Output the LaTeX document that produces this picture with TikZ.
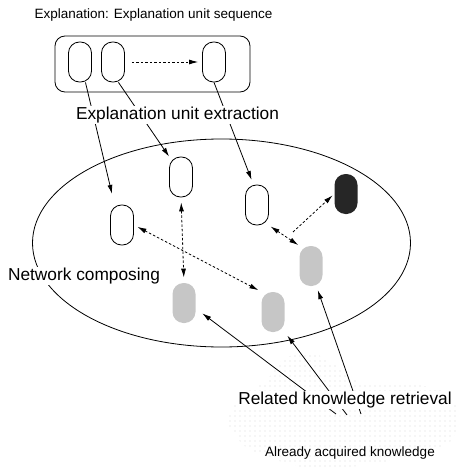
\documentclass[tikz,border=0pt]{standalone}
\usepackage{fontspec}
\setmainfont{Liberation Sans}
\usetikzlibrary{arrows.meta,patterns.meta}

\tikzset{
  expunit/.style={draw, line width=0.8pt, rounded corners=11pt,
    minimum width=23pt, minimum height=40pt, inner sep=0pt},
  knowunit/.style={expunit, draw=none, fill=gray!45},
  newunit/.style={expunit, draw=none, fill=black!85},
  link/.style={line width=0.8pt, -{Latex[length=9pt,width=5pt]}},
  relation/.style={line width=0.8pt, dash pattern=on 2.5pt off 2pt,
    {Latex[length=9pt,width=5pt]}-{Latex[length=9pt,width=5pt]}},
  bigtext/.style={font=\fontsize{17.3}{19}\selectfont, fill=white, inner sep=1pt},
  smalltext/.style={font=\fontsize{13.5}{15}\selectfont, inner sep=1pt},
}

\begin{document}
\begin{tikzpicture}[x=1pt, y=-1pt]
      \useasboundingbox (0,0) rectangle (455,476);
      %
      % already acquired knowledge (cloud)
      \fill[pattern={Dots[distance=5pt, radius=0.45pt]}, pattern color=gray!85]
        plot[smooth cycle] coordinates {(228,420) (242,396) (266,381) (282,360)
          (310,352) (336,366) (362,384) (402,384) (442,390) (458,412) (452,440)
          (420,455) (380,462) (322,470) (280,461) (245,446)};
      %
      % explanation unit sequence
      \node[draw, line width=0.8pt, rounded corners=10pt, minimum width=195pt,
        minimum height=56pt] (seq) at (152.5,64) {};
      \node[expunit] (u1) at (80,62) {};
      \node[expunit] (u2) at (113,62) {};
      \node[expunit] (u3) at (214,62) {};
      \draw[link, dash pattern=on 2.5pt off 2pt] (u2.east) ++(7,0) coordinate (s0)
        -- ([xshift=-4pt]u3.west);
      %
      % network
      \draw[line width=0.8pt] (221.5,243) ellipse (189 and 104);
      \node[expunit] (a) at (122,225) {};               % left
      \node[expunit] (b) at (181,177) {};               % middle top
      \node[expunit] (c) at (257,205) {};               % right
      \node[newunit] (d) at (346,194) {};               % new unit
      \node[knowunit] (e) at (311,266) {};
      \node[knowunit] (f) at (273,312) {};
      \node[knowunit] (g) at (184,303) {};
      %
      % extraction
      \draw[link, shorten >=11pt] (u1.-75) -- (a.110);
      \draw[link] (u2.-75) -- (b.north west);
      \draw[link, shorten >=5pt] (u3.south) -- (c.100);
      %
      % composing
      \draw[relation, shorten <=5pt, shorten >=5pt] (b.south) -- (g.north);
      \draw[relation, shorten <=4pt, shorten >=3pt] (a.east) -- (f.north west);
      \draw[relation, shorten <=2pt, shorten >=1pt] (c.south east) -- (e.north west);
      \coordinate (split) at (293,232);
      \draw[link, dash pattern=on 2.5pt off 2pt, shorten >=2pt] (split) -- (d.west);
      %
      % retrieval
      \coordinate (k1) at (336,414);
      \coordinate (k2) at (347,415);
      \coordinate (k3) at (361,414);
      \draw[link, shorten >=8pt] (k1) -- (g.-25);
      \draw[link, shorten >=4pt] (k2) -- (f.south east);
      \draw[link, shorten >=4pt] (k3) -- (e.-75);
      %
      % texts
      \node[smalltext] (title) at (153.5,15) {Explanation: Explanation unit sequence};
      \node[bigtext] (extract) at (177.5,115) {Explanation unit extraction};
      \node[bigtext] (compose) at (84,276) {Network composing};
      \node[bigtext] (retrieve) at (345,400) {Related knowledge retrieval};
      \node[smalltext] (known) at (350,453) {Already acquired knowledge};
      %
    \end{tikzpicture}
\end{document}
